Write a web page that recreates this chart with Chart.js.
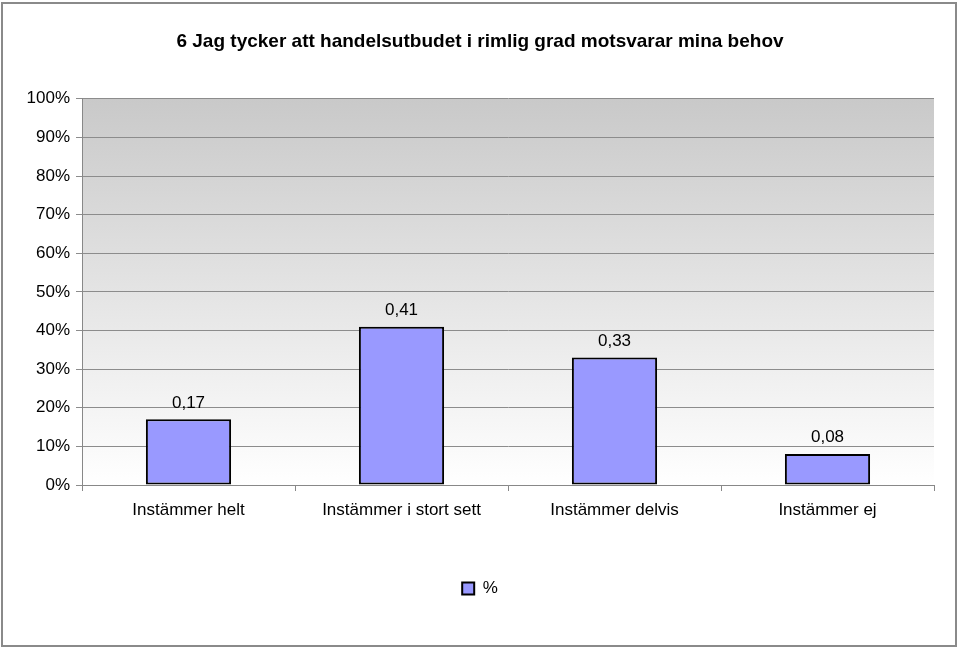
<!DOCTYPE html>
<html>
<head>
<meta charset="utf-8">
<style>
  html, body { margin: 0; padding: 0; background: #fff; }
  #wrap { width: 960px; height: 648px; }
</style>
<script src="https://cdn.jsdelivr.net/npm/chart.js@4/dist/chart.umd.min.js"></script>
</head>
<body>
<div id="wrap"><canvas id="chart" width="960" height="648"></canvas></div>
<script>
var categories = ['Instämmer helt', 'Instämmer i stort sett', 'Instämmer delvis', 'Instämmer ej'];
var values = [0.17, 0.41, 0.33, 0.08];
var seriesName = '%';
var chartTitle = '6 Jag tycker att handelsutbudet i rimlig grad motsvarar mina behov';

var font = 'Arial, "Liberation Sans", sans-serif';
Chart.defaults.font.family = font;
Chart.defaults.color = '#000';

// gray-to-white plot background, outer frame
var backdrop = {
    id: 'backdrop',
    beforeDraw: function (chart) {
        var c = chart.ctx, a = chart.chartArea;
        c.save();
        c.fillStyle = '#fff';
        c.fillRect(0, 0, chart.width, chart.height);
        var g = c.createLinearGradient(0, a.top, 0, a.bottom);
        g.addColorStop(0, '#c9c9c9');
        g.addColorStop(1, '#ffffff');
        c.fillStyle = g;
        c.fillRect(a.left, a.top, a.right - a.left, a.bottom - a.top);
        c.restore();
    },
    afterDraw: function (chart) {
        var c = chart.ctx;
        c.save();
        c.strokeStyle = '#8a8a8a';
        c.lineWidth = 2;
        c.strokeRect(2, 3, 954, 643);
        c.restore();
    }
};

// value labels above bars
var barLabels = {
    id: 'barLabels',
    afterDatasetsDraw: function (chart) {
        var c = chart.ctx;
        var meta = chart.getDatasetMeta(0);
        c.save();
        c.font = '17px ' + font;
        c.fillStyle = '#000';
        c.textAlign = 'center';
        c.textBaseline = 'bottom';
        meta.data.forEach(function (bar, i) {
            c.fillText(values[i].toFixed(2).replace('.', ','), bar.x, bar.y - 8);
        });
        c.restore();
    }
};

new Chart(document.getElementById('chart').getContext('2d'), {
    type: 'bar',
    data: {
        labels: categories,
        datasets: [{
            label: seriesName,
            data: values,
            backgroundColor: '#9999ff',
            borderColor: '#000',
            borderWidth: 2,
            borderSkipped: false,
            categoryPercentage: 0.8,
            barPercentage: 0.5
        }]
    },
    options: {
        responsive: false,
        animation: false,
        layout: { padding: { left: 26, right: 26, top: 0, bottom: 41 } },
        plugins: {
            title: {
                display: true,
                text: chartTitle,
                font: { size: 19, weight: 'bold', family: font },
                color: '#000',
                padding: { top: 30, bottom: 46 }
            },
            legend: {
                position: 'bottom',
                labels: {
                    boxWidth: 12,
                    boxHeight: 12,
                    font: { size: 17, family: font },
                    color: '#000'
                }
            },
            tooltip: { enabled: false }
        },
        scales: {
            x: {
                grid: { drawOnChartArea: false, drawTicks: true, tickLength: 6, color: '#888' },
                border: { color: '#888', width: 1 },
                ticks: { font: { size: 17 }, color: '#000', padding: 9, maxRotation: 0 },
                afterFit: function (s) { s.height = 85; }
            },
            y: {
                min: 0,
                max: 1,
                ticks: {
                    stepSize: 0.1,
                    font: { size: 17 },
                    color: '#000',
                    padding: 6,
                    callback: function (v) { return Math.round(v * 100) + '%'; }
                },
                grid: { color: '#8c8c8c', tickLength: 6 },
                border: { color: '#888' },
                afterFit: function (s) { s.width = 56; }
            }
        }
    },
    plugins: [backdrop, barLabels]
});
</script>
</body>
</html>
